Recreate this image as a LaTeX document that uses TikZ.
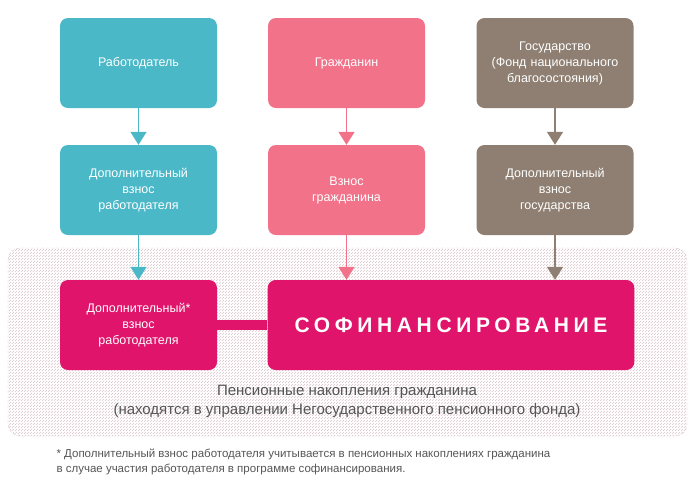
\documentclass[tikz,border=0pt]{standalone}
\usepackage{fontspec}
\setmainfont{Liberation Sans}
\usetikzlibrary{patterns,positioning,arrows.meta}
\definecolor{tealc}{HTML}{4BB8C8}
\definecolor{pinkc}{HTML}{F2728A}
\definecolor{brownc}{HTML}{8E7F72}
\definecolor{magc}{HTML}{E0146A}
\definecolor{textg}{HTML}{555555}
\definecolor{hatch}{HTML}{D8C4C8}
\tikzset{
  box/.style={rectangle, rounded corners=8pt, minimum width=157pt, minimum height=90pt,
    text width=145pt, align=center, text=white, font=\fontsize{12.5}{16}\selectfont},
  flow/.style={line width=1.5pt, -{Triangle[width=16pt,length=13pt]}}
}
\begin{document}
\begin{tikzpicture}[x=1pt,y=-1pt]
\useasboundingbox (0,0) rectangle (695,491);
% shaded area
\draw[rounded corners=12pt, draw=hatch, densely dashed, pattern=north east lines, pattern color=hatch]
  (8,248) rectangle (687,436);
% top row
\node (emp) [box, fill=tealc] at (138.5,63) {Работодатель};
\node (cit) [box, fill=pinkc] at (346.5,63) {Гражданин};
\node (gov) [box, fill=brownc] at (555,63) {Государство\\(Фонд национального\\благосостояния)};
% second row
\node (empAdd) [box, fill=tealc] at (138.5,190) {Дополнительный\\взнос\\работодателя};
\node (citAdd) [box, fill=pinkc] at (346.5,190) {Взнос\\гражданина};
\node (govAdd) [box, fill=brownc] at (555,190) {Дополнительный\\взнос\\государства};
% bottom row
\node (empFin) [box, fill=magc] at (138.5,325) {Дополнительный*\\взнос\\работодателя};
\node (cofin) [box, fill=magc, minimum width=366pt, text width=360pt] at (451,325)
  {\fontsize{21}{24}\selectfont\bfseries\addfontfeature{LetterSpace=22}СОФИНАНСИРОВАНИЕ};
\draw[magc, line width=10pt] (empFin.east) -- (cofin.west);
% arrows
\draw[flow, tealc] (emp) -- (empAdd);
\draw[flow, pinkc] (cit) -- (citAdd);
\draw[flow, brownc] (gov) -- (govAdd);
\draw[flow, tealc] (empAdd) -- (empFin);
\draw[flow, pinkc] (citAdd.south) -- (citAdd.south |- cofin.north);
\draw[flow, brownc] (govAdd) -- (govAdd.south |- cofin.north);
% captions
\node (fund) [text=textg, align=center, font=\fontsize{15}{19}\selectfont] at (347,401)
  {Пенсионные накопления гражданина\\(находятся в управлении Негосударственного пенсионного фонда)};
\node (note) [text=textg, align=left, anchor=west, font=\fontsize{11.5}{15}\selectfont] at (53,462)
  {* Дополнительный взнос работодателя учитывается в пенсионных накоплениях гражданина\\в случае участия работодателя в программе софинансирования.};
\end{tikzpicture}
\end{document}
